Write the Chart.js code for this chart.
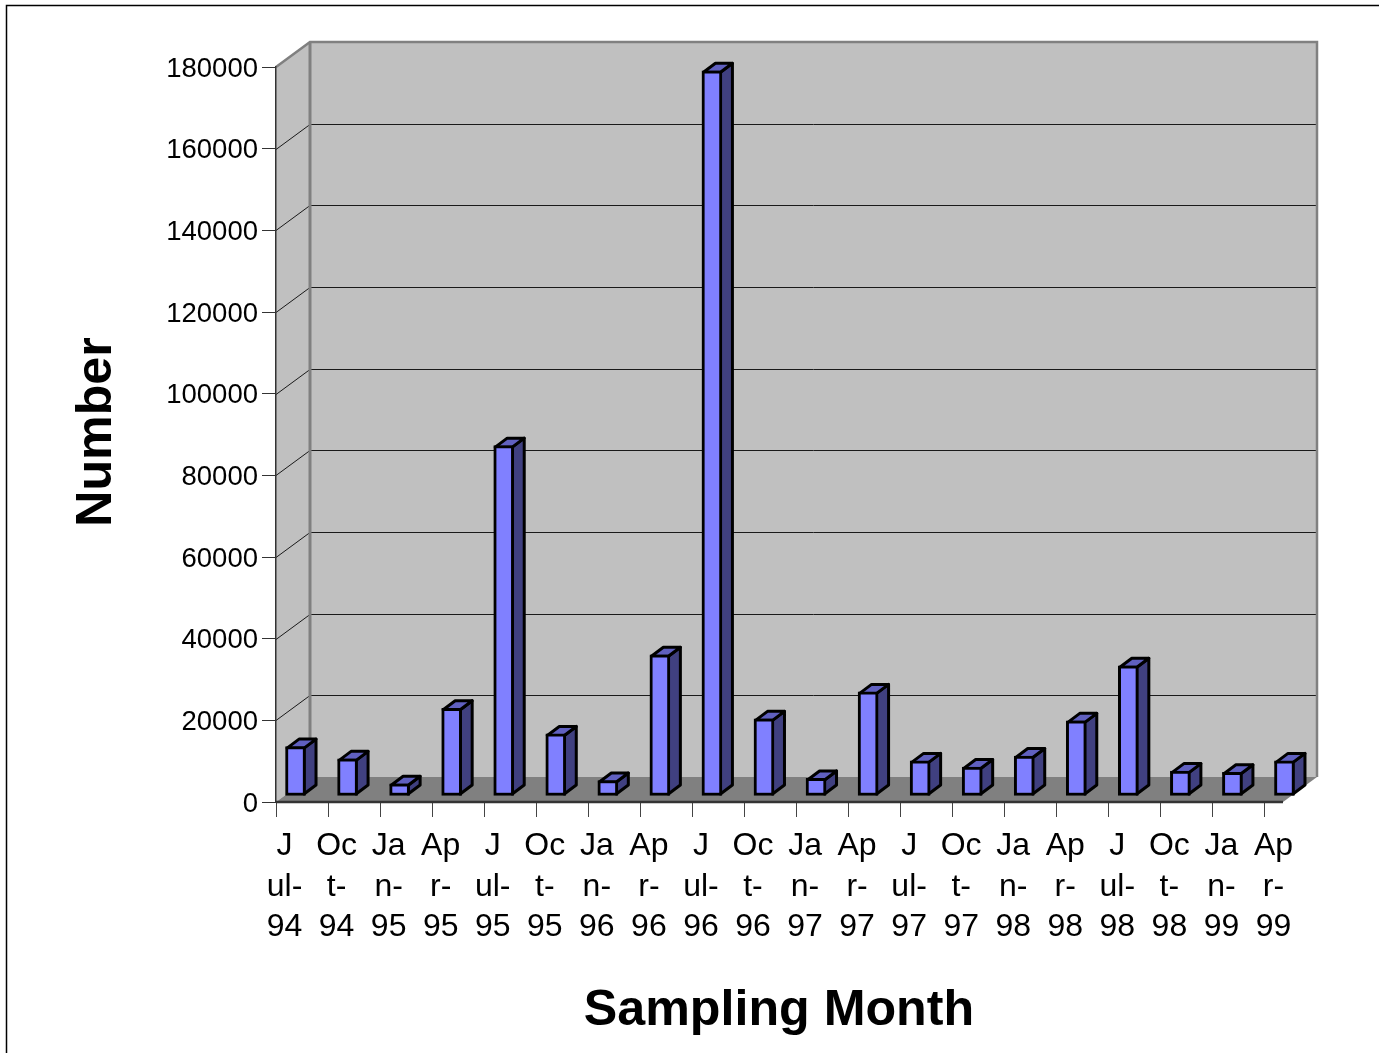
<!DOCTYPE html>
<html>
<head>
<meta charset="utf-8">
<title>Sampling Month</title>
<script src="https://cdn.jsdelivr.net/npm/chart.js@4/dist/chart.umd.js"></script>
<style>
  html,body{margin:0;padding:0;background:#fff;overflow:hidden;}
  canvas{display:block;}
</style>
</head>
<body>
<canvas id="chart" width="1379" height="1053"></canvas>
<script>
// Sampling counts, one bar per quarter
var months=['Jul-94','Oct-94','Jan-95','Apr-95','Jul-95','Oct-95','Jan-96','Apr-96','Jul-96','Oct-96','Jan-97','Apr-97','Jul-97','Oct-97','Jan-98','Apr-98','Jul-98','Oct-98','Jan-99','Apr-99'];
var counts=[12100,9100,3000,21500,85800,15200,3800,34600,177600,18900,4300,25500,8600,7100,9800,18400,31900,6100,5800,8600];
// the old chart wraps its labels inside the narrow slots
var monthLines=[['J','ul-','94'],['Oc','t-','94'],['Ja','n-','95'],['Ap','r-','95']];
var yMax=180000;
var yStep=20000;

var FONT='"Liberation Sans", Arial, sans-serif';
var wallDx=34,wallDy=25;   // depth of the box
var barDx=12,barDy=9;      // depth of a single bar
var barShiftX=-6.5,barShiftY=-6; // bars stand in the middle of the floor

function line(ctx,pts,color,width){
  ctx.beginPath();
  ctx.moveTo(pts[0][0],pts[0][1]);
  for(var i=1;i<pts.length;i++) ctx.lineTo(pts[i][0],pts[i][1]);
  ctx.strokeStyle=color;
  ctx.lineWidth=width;
  ctx.stroke();
}
function poly(ctx,pts,fill,stroke,width){
  ctx.beginPath();
  ctx.moveTo(pts[0][0],pts[0][1]);
  for(var i=1;i<pts.length;i++) ctx.lineTo(pts[i][0],pts[i][1]);
  ctx.closePath();
  ctx.fillStyle=fill;
  ctx.fill();
  if(stroke){
    ctx.strokeStyle=stroke;
    ctx.lineWidth=width;
    ctx.lineJoin='round';
    ctx.stroke();
  }
}

var box3d={
  id:'box3d',
  // side wall, back wall, floor and grid
  beforeDraw:function(chart){
    var ctx=chart.ctx,a=chart.chartArea,ys=chart.scales.y;
    var l=a.left,r=a.right,t=a.top,b=a.bottom;
    var bl=l+wallDx,tb=t-wallDy,fb=b-wallDy;
    ctx.save();
    ctx.fillStyle='#fff';
    ctx.fillRect(0,0,chart.width,chart.height);
    poly(ctx,[[l,t],[bl,tb],[bl,fb],[l,b]],'#c0c0c0');
    poly(ctx,[[bl,tb],[r,tb],[r,fb],[bl,fb]],'#c0c0c0');
    poly(ctx,[[l,b],[bl,fb],[r,fb],[r-wallDx,b]],'#808080');
    ys.ticks.forEach(function(tk){
      if(tk.value<=0||tk.value>=yMax) return;
      var y=Math.round(ys.getPixelForValue(tk.value));
      line(ctx,[[l,y+0.5],[bl,y-wallDy+0.5],[r,y-wallDy+0.5]],'#1a1a1a',1);
    });
    line(ctx,[[l,t],[bl,tb],[r,tb],[r,fb]],'#808080',2.5);
    line(ctx,[[bl,tb],[bl,fb]],'#808080',3);
    ctx.restore();
  },
  // top and side of every bar, the front comes from the bar element
  beforeDatasetsDraw:function(chart){
    var ctx=chart.ctx;
    var bars=chart.getDatasetMeta(0).data;
    ctx.save();
    ctx.translate(barShiftX,barShiftY);
    bars.forEach(function(bar){
      var x1=bar.x-bar.width/2+1.5,x2=bar.x+bar.width/2-1.5;
      var y1=bar.y+1.5,y2=bar.base-1.5;
      poly(ctx,[[x2,y1],[x2+barDx,y1-barDy],[x2+barDx,y2-barDy],[x2,y2]],'#404080','#000',3);
      poly(ctx,[[x1,y1],[x1+barDx,y1-barDy],[x2+barDx,y1-barDy],[x2,y1]],'#6060c0','#000',3);
    });
    ctx.restore();
  },
  beforeDatasetDraw:function(chart){
    chart.ctx.save();
    chart.ctx.translate(barShiftX,barShiftY);
  },
  afterDatasetDraw:function(chart){
    chart.ctx.restore();
  },
  afterDraw:function(chart){
    var ctx=chart.ctx,a=chart.chartArea;
    ctx.save();
    // front edge of the floor and the page frame
    line(ctx,[[a.left,a.bottom],[a.right-wallDx,a.bottom]],'#333',2.5);
    line(ctx,[[6.5,chart.height],[6.5,5.5],[chart.width,5.5]],'#000',1.5);
    // axis titles
    ctx.fillStyle='#000';
    ctx.font='bold 50.2px '+FONT;
    ctx.textAlign='center';
    ctx.textBaseline='middle';
    ctx.fillText('Sampling Month',779,1011);
    ctx.translate(97,432);
    ctx.rotate(-Math.PI/2);
    ctx.fillText('Number',0,0);
    ctx.restore();
  }
};

var ctx=document.getElementById('chart').getContext('2d');
var chart=new Chart(ctx,{
  type:'bar',
  data:{
    labels:months,
    datasets:[{
      label:'Number',
      data:counts,
      backgroundColor:'#8080ff',
      borderColor:'#000',
      borderWidth:3,
      borderSkipped:false,
      barThickness:20,
      clip:false
    }]
  },
  options:{
    responsive:false,
    animation:false,
    events:[],
    layout:{padding:{top:67,right:62,left:0,bottom:0}},
    plugins:{legend:{display:false},tooltip:{enabled:false},title:{display:false}},
    scales:{
      x:{
        afterFit:function(s){s.height=251;},
        border:{display:false},
        grid:{
          drawOnChartArea:false,
          tickLength:15,
          // the extra closing tick has no tick in its context
          tickColor:function(c){return c.tick?'#444':'rgba(0,0,0,0)';}
        },
        ticks:{
          autoSkip:false,
          maxRotation:0,
          minRotation:0,
          color:'#000',
          padding:9,
          labelOffset:-17.5,
          font:{family:FONT,size:32,lineHeight:40.5/32},
          callback:function(v,i){return monthLines[i%4].slice(0,2).concat(months[i].slice(-2));}
        }
      },
      y:{
        min:0,
        max:yMax,
        afterFit:function(s){s.width=276;},
        border:{display:true,color:'#333',width:1.5},
        grid:{drawOnChartArea:false,tickLength:14,tickColor:'#333'},
        ticks:{
          stepSize:yStep,
          color:'#000',
          padding:4,
          labelOffset:2,
          font:{family:FONT,size:27.5},
          callback:function(v){return String(v);}
        }
      }
    }
  },
  plugins:[box3d]
});
</script>
</body>
</html>
